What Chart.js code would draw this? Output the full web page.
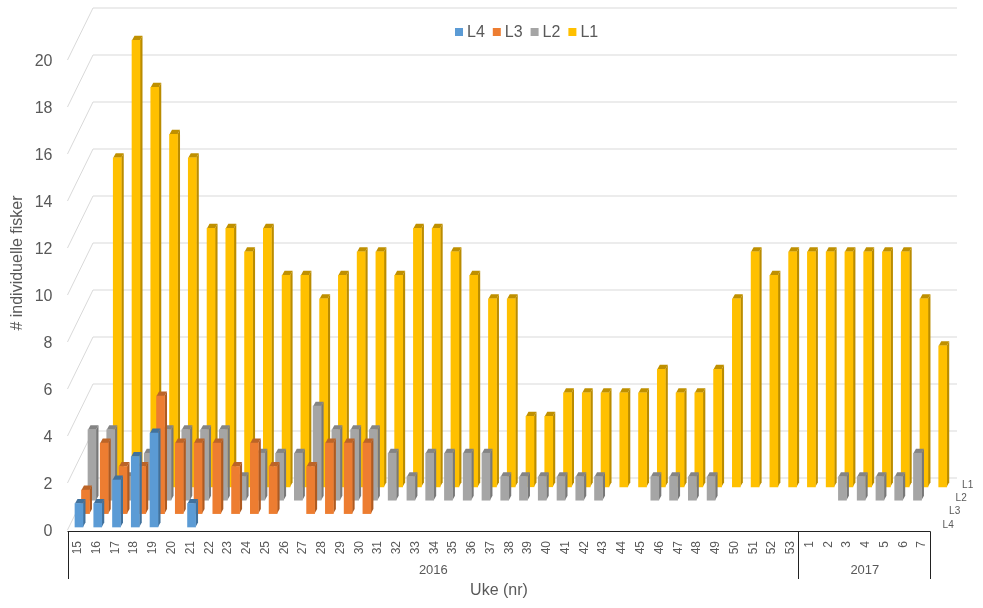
<!DOCTYPE html>
<html>
<head>
<meta charset="utf-8">
<title>Individuelle fisker per uke</title>
<script src="https://cdn.jsdelivr.net/npm/chart.js@4"></script>
<style>
  html, body { margin: 0; padding: 0; background: #fff; }
  #wrap { width: 983px; height: 608px; }
</style>
</head>
<body>
<div id="wrap"><canvas id="chart"></canvas></div>
<script>
// Data
const weeks = ['15','16','17','18','19','20','21','22','23','24','25','26','27','28','29','30','31','32','33','34','35','36','37','38','39','40','41','42','43','44','45','46','47','48','49','50','51','52','53','1','2','3','4','5','6','7'];
const years = ['2016', '2017'];
const weeksPerYear = [39, 7];
const yTicks = [0, 2, 4, 6, 8, 10, 12, 14, 16, 18, 20];

const l4 = [1,1,2,3,4,0,1,0,0,0,0,0,0,0,0,0,0,0,0,0,0,0,0,0,0,0,0,0,0,0,0,0,0,0,0,0,0,0,0,0,0,0,0,0,0,0];
const l3 = [1,3,2,2,5,3,3,3,2,3,2,0,2,3,3,3,0,0,0,0,0,0,0,0,0,0,0,0,0,0,0,0,0,0,0,0,0,0,0,0,0,0,0,0,0,0];
const l2 = [3,3,1,2,3,3,3,3,1,2,2,2,4,3,3,3,2,1,2,2,2,2,1,1,1,1,1,1,0,0,1,1,1,1,0,0,0,0,0,0,1,1,1,1,2,0];
const l1 = [0,14,19,17,15,14,11,11,10,11,9,9,8,9,10,10,9,11,11,10,9,8,8,3,3,4,4,4,4,4,5,4,4,5,8,10,9,10,10,10,10,10,10,10,8,6];

const textColor = '#595959';
const wallColor = '#d9d9d9';
const font = '"Liberation Sans", Arial, sans-serif';

// Fake 3D: each series sits further back on the floor
const depthX = 6.5, depthY = 13.4;
const startX = 2.1, startY = -3;
const sideW = 2.5, sideH = 4.5;
const wallX = 25.5, wallY = 52;

function seriesOffset(k) {
  return { dx: startX + k * depthX, dy: startY - k * depthY };
}

const bars3d = {
  id: 'bars3d',
  beforeDatasetDraw(chart, args) {
    const ctx = chart.ctx;
    const ds = chart.data.datasets[args.index];
    const off = seriesOffset(args.index);
    ctx.save();
    ctx.translate(off.dx, off.dy);
    args.meta.data.forEach(bar => {
      const p = bar.getProps(['x', 'y', 'base', 'width'], true);
      if (bar.skip || p.base - p.y < 0.5) return;
      const r = p.x + p.width / 2, l = p.x - p.width / 2;
      ctx.fillStyle = ds.sideColor;
      ctx.beginPath();
      ctx.moveTo(r, p.y);
      ctx.lineTo(r + sideW, p.y - sideH);
      ctx.lineTo(r + sideW, p.base - sideH);
      ctx.lineTo(r, p.base);
      ctx.closePath();
      ctx.fill();
      ctx.fillStyle = ds.topColor;
      ctx.beginPath();
      ctx.moveTo(l, p.y);
      ctx.lineTo(l + sideW, p.y - sideH);
      ctx.lineTo(r + sideW, p.y - sideH);
      ctx.lineTo(r, p.y);
      ctx.closePath();
      ctx.fill();
    });
  },
  afterDatasetDraw(chart) {
    chart.ctx.restore();
  }
};

// Side wall and back wall gridlines
const walls = {
  id: 'walls',
  beforeDatasetsDraw(chart) {
    const ctx = chart.ctx, y = chart.scales.y, a = chart.chartArea;
    ctx.save();
    ctx.strokeStyle = wallColor;
    ctx.lineWidth = 1;
    yTicks.forEach(v => {
      const py = y.getPixelForValue(v);
      ctx.beginPath();
      ctx.moveTo(a.left, py);
      ctx.lineTo(a.left + wallX, py - wallY);
      ctx.lineTo(a.right + wallX + 1, py - wallY);
      ctx.stroke();
    });
    ctx.restore();
  }
};

// Two level week/year axis, y title, legend and depth axis labels
const extras = {
  id: 'extras',
  afterDraw(chart) {
    const ctx = chart.ctx, a = chart.chartArea;
    const step = (a.right - a.left) / weeks.length;
    const axisY = a.bottom + 1.5, lineEnd = 579;
    ctx.save();
    ctx.strokeStyle = '#222';
    ctx.lineWidth = 1;
    ctx.beginPath();
    ctx.moveTo(a.left, axisY);
    ctx.lineTo(a.right, axisY);
    ctx.stroke();

    ctx.textBaseline = 'middle';
    ctx.textAlign = 'center';
    let start = a.left;
    ctx.beginPath();
    ctx.moveTo(Math.round(start) + 0.5, axisY);
    ctx.lineTo(Math.round(start) + 0.5, lineEnd);
    ctx.stroke();
    years.forEach((yr, i) => {
      const end = start + weeksPerYear[i] * step;
      ctx.beginPath();
      ctx.moveTo(Math.round(end) - 0.5, axisY);
      ctx.lineTo(Math.round(end) - 0.5, lineEnd);
      ctx.stroke();
      ctx.fillStyle = textColor;
      ctx.font = '13px ' + font;
      ctx.fillText(yr, (start + end) / 2, 570);
      start = end;
    });

    // y title
    ctx.save();
    ctx.translate(18, 263);
    ctx.rotate(-Math.PI / 2);
    ctx.font = '16px ' + font;
    ctx.fillStyle = textColor;
    ctx.fillText('# individuelle fisker', 0, 0);
    ctx.restore();

    // legend
    ctx.font = '16px ' + font;
    ctx.textAlign = 'left';
    let lx = 455;
    chart.data.datasets.forEach(ds => {
      ctx.fillStyle = ds.backgroundColor;
      ctx.fillRect(lx, 28, 8, 8);
      ctx.fillStyle = textColor;
      ctx.fillText(ds.label, lx + 12, 32.5);
      lx += 12 + ctx.measureText(ds.label).width + 8;
    });

    // depth axis labels
    ctx.font = '10px ' + font;
    chart.data.datasets.forEach((ds, k) => {
      const off = seriesOffset(k);
      ctx.fillText(ds.label, a.right + off.dx + 10, a.bottom + off.dy - 2);
    });
    ctx.restore();
  }
};

function series(label, data, color, side, top) {
  // weeks without fish get no bar at all
  return { label, data: data.map(v => v || null), backgroundColor: color, sideColor: side, topColor: top, borderWidth: 0, barThickness: 8, grouped: false, clip: false };
}

new Chart(document.getElementById('chart'), {
  type: 'bar',
  data: {
    labels: weeks,
    datasets: [
      series('L4', l4, '#5B9BD5', '#41719C', '#41719C'),
      series('L3', l3, '#ED7D31', '#AE5A21', '#BC6427'),
      series('L2', l2, '#A5A5A5', '#787878', '#848484'),
      series('L1', l1, '#FFC000', '#BA8C00', '#BF9000')
    ]
  },
  options: {
    responsive: true,
    maintainAspectRatio: false,
    animation: false,
    layout: { padding: { top: 60, right: 52.5, left: 0, bottom: 0 } },
    plugins: { legend: { display: false }, tooltip: { enabled: false } },
    scales: {
      x: {
        grid: { display: false },
        border: { display: false },
        ticks: { color: textColor, font: { family: font, size: 12 }, minRotation: 90, maxRotation: 90, autoSkip: false, padding: 3, labelOffset: 1 },
        title: { display: true, text: 'Uke (nr)', color: textColor, font: { family: font, size: 16 }, padding: { top: 0, bottom: 8 } },
        afterFit(scale) { scale.height = 78; }
      },
      y: {
        min: 0,
        max: 20,
        grid: { display: false },
        border: { display: false },
        ticks: { color: textColor, font: { family: font, size: 16 }, stepSize: 2, padding: 7, labelOffset: 1.5 },
        afterFit(scale) { scale.width = 67.5; }
      }
    }
  },
  plugins: [walls, bars3d, extras]
});
</script>
</body>
</html>
